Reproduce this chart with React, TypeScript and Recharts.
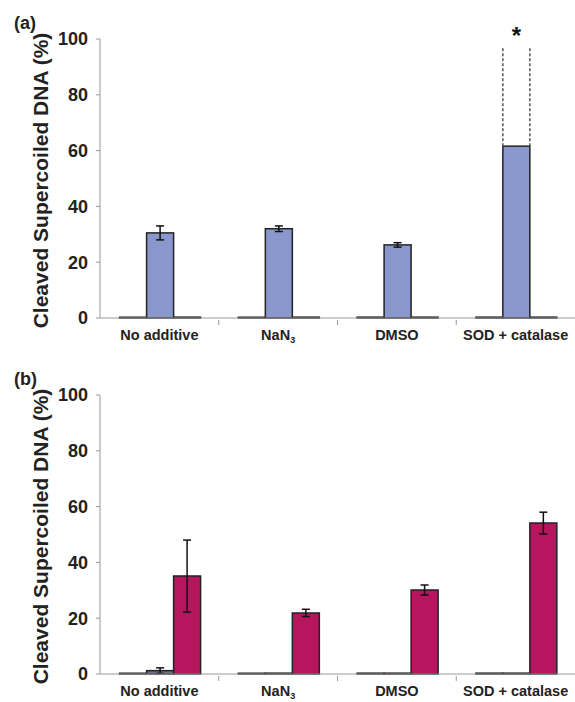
import { Bar, BarChart, ErrorBar, XAxis, YAxis } from 'recharts';

const categories = ['No additive', 'NaN3', 'DMSO', 'SOD + catalase'];
const yTicks = [0, 20, 40, 60, 80, 100];

// panel (a)
const aFirst = [0.3, 0.3, 0.3, 0.3];
const aMain = [30.5, 32, 26.2, 61.6];
const aMainErr = [2.5, 1, 0.8, 0];
const aLast = [0.3, 0.3, 0.3, 0.3];
const aSignificant = [false, false, false, true];
const aSigTop = 97;

// panel (b)
const bFirst = [0.3, 0.3, 0.3, 0.3];
const bMid = [1.2, 0.3, 0.3, 0.3];
const bMidErr = [1, 0, 0, 0];
const bMain = [35.1, 21.9, 30.1, 54.1];
const bMainErr = [12.9, 1.3, 1.8, 3.9];

const W = 575;
const H = 351;
const LEFT = 100;
const PLOT_H = 279;
const BAND = (W - LEFT) / categories.length;
const FONT = 'Liberation Sans, Arial, sans-serif';

const dataA = categories.map((name, i) => ({
  name,
  s1: aFirst[i],
  s2: aMain[i],
  e2: aMainErr[i],
  s3: aLast[i],
  sig: aSignificant[i],
}));

const dataB = categories.map((name, i) => ({
  name,
  s1: bFirst[i],
  s2: bMid[i],
  e2: bMidErr[i],
  s3: bMain[i],
  e3: bMainErr[i],
}));

function CatTick({ x, y, payload, index }: any) {
  const isNa = payload.value === 'NaN3';
  const tx = x - BAND / 2;
  return (
    <g>
      {index > 0 && <line x1={tx} x2={tx} y1={y - 1} y2={y - 6} stroke="#999" strokeWidth={1} />}
      <text
        x={x}
        y={y + 14}
        textAnchor="middle"
        fontFamily={FONT}
        fontWeight="bold"
        fontSize={14.5}
        fill="#222"
      >
        {isNa ? (
          <>
            NaN<tspan fontSize={9} dy={3}>3</tspan>
          </>
        ) : (
          payload.value
        )}
      </text>
    </g>
  );
}

function YLabel({ viewBox }: any) {
  const cx = 40;
  const cy = viewBox.y + viewBox.height / 2 + 2;
  return (
    <text
      x={cx}
      y={cy}
      transform={`rotate(-90 ${cx} ${cy})`}
      textAnchor="middle"
      dominantBaseline="central"
      fontFamily={FONT}
      fontWeight="bold"
      fontSize={21}
      fill="#222"
    >
      Cleaved Supercoiled DNA (%)
    </text>
  );
}

function SigBar(props: any) {
  const { x, y, width, height, fill, payload, value } = props;
  const k = value ? height / value : 0;
  const yTop = y - (aSigTop - value) * k;
  const yStar = y - (100 - value) * k + 5;
  return (
    <g>
      <rect x={x} y={y} width={width} height={height} fill={fill} stroke="#222" strokeWidth={1.5} />
      {payload.sig && (
        <>
          <line x1={x} x2={x} y1={y} y2={yTop} stroke="#555" strokeWidth={1.5} strokeDasharray="3 2" />
          <line
            x1={x + width}
            x2={x + width}
            y1={y}
            y2={yTop}
            stroke="#555"
            strokeWidth={1.5}
            strokeDasharray="3 2"
          />
          <text
            x={x + width / 2}
            y={yStar}
            textAnchor="middle"
            fontFamily={FONT}
            fontWeight="bold"
            fontSize={24}
            fill="#111"
          >
            *
          </text>
        </>
      )}
    </g>
  );
}

function Panel({ data, tag, top, bottom, colors, mainErr }: any) {
  return (
    <div style={{ position: 'relative', width: W, height: H }}>
      <div
        style={{
          position: 'absolute',
          left: 14,
          top: top - 26,
          fontFamily: FONT,
          fontWeight: 'bold',
          fontSize: 18,
          color: '#222',
        }}
      >
        {tag}
      </div>
      <BarChart
        width={W}
        height={H}
        data={data}
        margin={{ top, right: 0, left: 0, bottom }}
        barCategoryGap="16.5%"
        barGap={0}
      >
        <XAxis
          dataKey="name"
          height={H - top - bottom - PLOT_H}
          axisLine={{ stroke: '#999' }}
          tickLine={false}
          interval={0}
          tick={<CatTick />}
        />
        <YAxis
          width={LEFT}
          domain={[0, 100]}
          ticks={yTicks}
          axisLine={{ stroke: '#999' }}
          tickLine={{ stroke: '#999' }}
          tickSize={4}
          tickMargin={8}
          tick={{ fontFamily: FONT, fontWeight: 'bold', fontSize: 18, fill: '#222' }}
          label={<YLabel />}
        />
        <Bar dataKey="s1" fill="#222" stroke="#222" strokeWidth={1.5} isAnimationActive={false} />
        <Bar
          dataKey="s2"
          fill={colors[0]}
          stroke="#222"
          strokeWidth={1.5}
          isAnimationActive={false}
          shape={<SigBar />}
        >
          <ErrorBar dataKey="e2" width={4} stroke="#111" strokeWidth={1.5} />
        </Bar>
        <Bar dataKey="s3" fill={colors[1]} stroke="#222" strokeWidth={1.5} isAnimationActive={false}>
          {mainErr && <ErrorBar dataKey="e3" width={4} stroke="#111" strokeWidth={1.5} />}
        </Bar>
      </BarChart>
    </div>
  );
}

export default function App() {
  return (
    <div style={{ position: 'absolute', left: 0, top: 0, width: W, height: 702, background: '#fff' }}>
      <Panel data={dataA} tag="(a)" top={39} bottom={3} colors={['#8a97cc', '#222']} mainErr={false} />
      <Panel data={dataB} tag="(b)" top={44} bottom={0} colors={['#6c7090', '#b8155f']} mainErr={true} />
    </div>
  );
}
